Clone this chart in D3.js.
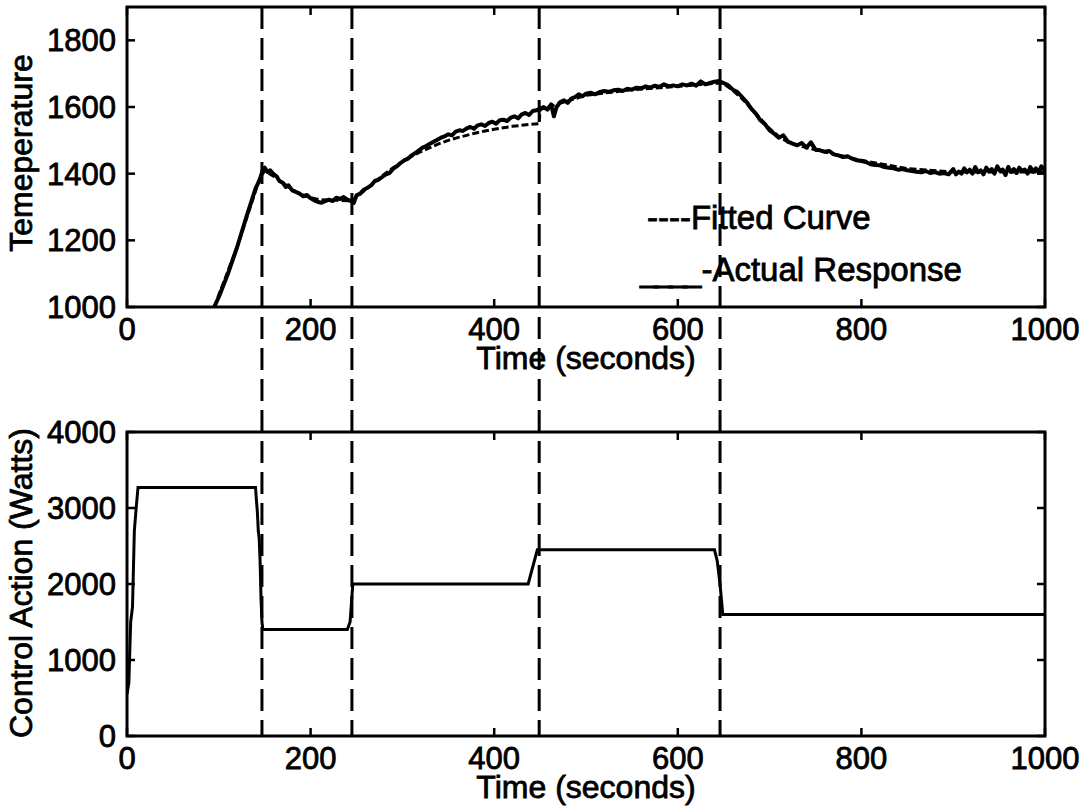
<!DOCTYPE html>
<html><head><meta charset="utf-8">
<script src="https://cdn.jsdelivr.net/npm/d3@7"></script>
<style>
html,body{margin:0;padding:0;background:#fff;}
svg text{font-family:"Liberation Sans",Arial,Helvetica,sans-serif;fill:#000;stroke:#000;stroke-width:0.8px;}
</style></head><body>
<svg id="chart" width="1084" height="810"></svg>
<script>
// ---- data ----
const timeTicks = [0, 200, 400, 600, 800, 1000];
const tempTicks = [1000, 1200, 1400, 1600, 1800];
const powerTicks = [0, 1000, 2000, 3000, 4000];
const switchTimes = [147, 245, 449, 646];

const actualT = [95,100,110,120,130,140,145,148,150,153,156,160,163,166,170,173,176,180,184,188,192,196,200,204,208,212,216,220,224,228,232,236,240,244,247,250,254,258,262,266,270,274,278,282,286,290,294,298,302,306,310,314,318,322,326,330,334,338,342,346,350,354,358,362,366,370,374,378,382,386,390,394,398,402,406,410,414,418,422,426,430,434,438,442,446,450,454,458,462,465,468,472,476,480,484,488,492,496,500,505,510,515,520,525,530,535,540,545,550,555,560,565,570,575,580,585,590,595,600,605,610,615,620,625,630,635,640,645,650,655,660,665,670,675,680,685,690,695,700,705,710,715,720,725,730,735,740,745,750,755,760,765,770,775,780,785,790,795,800,805,810,815,820,825,830,835,840,845,850,855,860,865,870,875,880,885,890,895,900,903,906,909,912,915,918,921,924,927,930,933,936,939,942,945,948,951,954,957,960,963,966,969,972,975,978,981,984,987,990,993,996,1000];
const actualV = [1000,1030,1100,1180,1270,1355,1385,1412,1418,1405,1410,1398,1392,1378,1372,1360,1365,1350,1345,1340,1332,1336,1326,1320,1315,1313,1318,1322,1318,1328,1324,1330,1322,1318,1312,1335,1340,1352,1358,1365,1378,1382,1390,1398,1402,1415,1422,1432,1440,1445,1455,1462,1470,1478,1483,1490,1496,1502,1508,1512,1518,1515,1526,1530,1528,1536,1540,1535,1545,1548,1543,1552,1556,1550,1560,1562,1558,1568,1572,1566,1578,1582,1576,1588,1590,1595,1600,1592,1608,1572,1600,1615,1620,1612,1625,1630,1638,1632,1640,1643,1638,1645,1648,1645,1650,1652,1648,1655,1652,1658,1656,1662,1658,1664,1660,1668,1662,1665,1662,1668,1665,1670,1664,1677,1668,1672,1676,1678,1672,1665,1652,1645,1630,1615,1595,1580,1560,1548,1530,1520,1508,1515,1496,1490,1485,1492,1478,1494,1472,1470,1466,1468,1458,1455,1450,1452,1445,1440,1438,1435,1428,1426,1425,1420,1418,1416,1412,1414,1410,1408,1406,1404,1408,1402,1405,1400,1402,1398,1414,1398,1406,1400,1416,1404,1412,1400,1420,1404,1410,1398,1418,1406,1414,1400,1422,1408,1412,1396,1420,1405,1414,1402,1418,1408,1412,1400,1420,1406,1416,1404,1422,1410];

const fittedT = [95,120,145,150,160,170,180,190,200,210,220,230,245,250,260,270,280,290,300,310,320,330,340,350,360,370,380,390,400,410,420,430,440,449,450,470,500,550,600,645,650,660,670,680,690,700,710,720,740,760,800,850,900,1000];
const fittedV = [1000,1180,1390,1408,1392,1372,1352,1338,1328,1322,1320,1320,1318,1330,1352,1376,1398,1418,1436,1452,1466,1478,1490,1500,1508,1515,1522,1528,1533,1538,1542,1545,1548,1550,1592,1610,1635,1652,1662,1672,1670,1650,1625,1595,1565,1535,1512,1495,1478,1465,1440,1415,1405,1405];

const powerT = [0,2,4,6,8,10,12,140,141,142,143,144,145,146,147,148,240,243,246,437,447,640,643,646,649,1000];
const powerV = [550,700,1500,1700,2700,3000,3270,3270,3100,2950,2700,2600,2300,1800,1500,1400,1400,1500,2000,2000,2450,2450,2300,2000,1600,1600];

const legendLabels = ["----Fitted Curve", "-Actual Response"];
const legendPrefix = "____";
const yLabels = ["Temeperature", "Control Action (Watts)"];
const xLabel = "Time (seconds)";

// ---- layout ----
const svg = d3.select("#chart");
const L = 127, R = 1045;
const top1 = 7, bot1 = 307, top2 = 432, bot2 = 736;
const x = d3.scaleLinear().domain([0, 1000]).range([L, R]);
const y1 = d3.scaleLinear().domain([1000, 1900]).range([bot1, top1]);
const y2 = d3.scaleLinear().domain([0, 4000]).range([bot2, top2]);
const FS = 31, FL = 32, TL = 8;

function panel(y, ticks, yTop, yBot, labelText, labelCY) {
  const g = svg.append("g");
  const clipId = "clip" + yTop;
  svg.append("clipPath").attr("id", clipId).append("rect")
    .attr("x", L).attr("y", yTop).attr("width", R - L).attr("height", yBot - yTop);
  const tk = g.append("g").attr("stroke", "#000").attr("stroke-width", 2.5);
  timeTicks.forEach(t => {
    tk.append("line").attr("x1", x(t)).attr("x2", x(t)).attr("y1", yBot).attr("y2", yBot - TL);
    tk.append("line").attr("x1", x(t)).attr("x2", x(t)).attr("y1", yTop).attr("y2", yTop + TL);
  });
  ticks.forEach(v => {
    tk.append("line").attr("x1", L).attr("x2", L + TL).attr("y1", y(v)).attr("y2", y(v));
    tk.append("line").attr("x1", R).attr("x2", R - TL).attr("y1", y(v)).attr("y2", y(v));
  });
  g.append("rect").attr("x", L).attr("y", yTop).attr("width", R - L).attr("height", yBot - yTop)
    .attr("fill", "none").attr("stroke", "#000").attr("stroke-width", 3);
  ticks.forEach(v => {
    g.append("text").attr("x", L - 11).attr("y", y(v)).attr("dy", "0.36em")
      .attr("text-anchor", "end").attr("font-size", FS).text(v);
  });
  timeTicks.forEach(t => {
    g.append("text").attr("x", x(t)).attr("y", yBot + 33)
      .attr("text-anchor", "middle").attr("font-size", FS).text(t);
  });
  g.append("text").attr("x", 586).attr("y", yBot + 62)
    .attr("text-anchor", "middle").attr("font-size", FL).text(xLabel);
  g.append("text").attr("transform", `translate(32,${labelCY}) rotate(-90)`)
    .attr("text-anchor", "middle").attr("font-size", FL).text(labelText);
  return clipId;
}

const c1 = panel(y1, tempTicks, top1, bot1, yLabels[0], 153);
const c2 = panel(y2, powerTicks, top2, bot2, yLabels[1], 583);

const line1 = d3.line().x(d => x(d[0])).y(d => y1(d[1]));
svg.append("path").datum(fittedT.map((t, i) => [t, fittedV[i]]))
  .attr("d", line1).attr("fill", "none").attr("stroke", "#000").attr("stroke-width", 3)
  .attr("stroke-dasharray", "7,3").attr("clip-path", `url(#${c1})`);
svg.append("path").datum(actualT.map((t, i) => [t, actualV[i]]))
  .attr("d", line1).attr("fill", "none").attr("stroke", "#000").attr("stroke-width", 4)
  .attr("stroke-linejoin", "round").attr("clip-path", `url(#${c1})`);

const line2 = d3.line().x(d => x(d[0])).y(d => y2(d[1]));
svg.append("path").datum(powerT.map((t, i) => [t, powerV[i]]))
  .attr("d", line2).attr("fill", "none").attr("stroke", "#000").attr("stroke-width", 3)
  .attr("clip-path", `url(#${c2})`);

switchTimes.forEach(t => {
  svg.append("line").attr("x1", x(t)).attr("x2", x(t)).attr("y1", top1).attr("y2", bot2)
    .attr("stroke", "#000").attr("stroke-width", 3).attr("stroke-dasharray", "22,9");
});

svg.append("text").attr("x", 647).attr("y", 229).attr("font-size", FL + 1).text(legendLabels[0]);
const lg2 = svg.append("text").attr("x", 640).attr("y", 281).attr("font-size", FL + 1);
lg2.append("tspan").attr("letter-spacing", "-4px").text(legendPrefix);
lg2.append("tspan").attr("dx", 4).text(legendLabels[1]);
</script>
</body></html>
